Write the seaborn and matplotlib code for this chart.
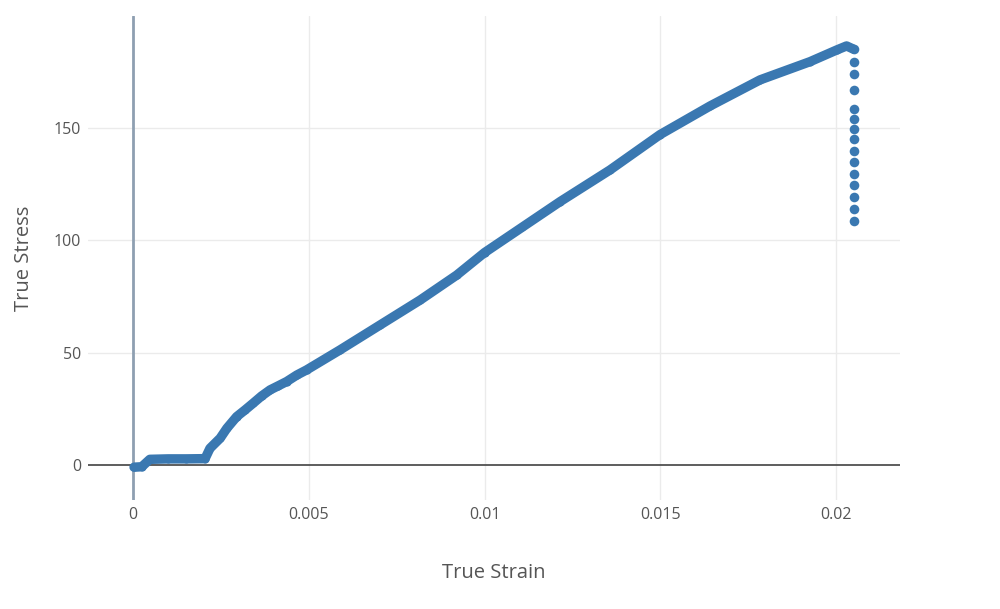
import matplotlib
matplotlib.use('Agg')
import matplotlib.pyplot as plt
import seaborn as sns
import pandas as pd

# values
strain = [0.00003, 0.00025, 0.00048, 0.0010, 0.0015, 0.00205, 0.00219, 0.00248,
          0.00267, 0.00295, 0.00319, 0.00342, 0.00366, 0.0039, 0.00413, 0.00437,
          0.00466, 0.00494, 0.00589, 0.00703, 0.00817, 0.00921, 0.0100, 0.01107,
          0.01215, 0.01357, 0.01499, 0.01642, 0.01784, 0.01926, 0.02002, 0.0203,
          0.02048]
stress = [-1.0, -0.8, 2.5, 2.7, 2.7, 2.8, 7.4, 11.9,
          16.3, 21.5, 24.5, 27.5, 30.7, 33.4, 35.2, 37.1,
          40.0, 42.3, 51.2, 62.3, 73.4, 84.5, 94.5, 105.8,
          117.2, 131.3, 147.0, 159.8, 171.4, 179.5, 184.7, 186.5,
          185.2]

# points after fracture (vertical drop)
strain_tail = [0.02052] * 15
stress_tail = [185.0, 179.2, 174.0, 166.8, 158.6, 154.1, 149.6, 145.0,
               139.9, 134.7, 129.6, 124.4, 119.1, 113.9, 108.8]

x_ticks = [0, 0.005, 0.01, 0.015, 0.02]
x_ticklabels = ['0', '0.005', '0.01', '0.015', '0.02']
y_ticks = [0, 50, 100, 150]

df = pd.DataFrame({'True Strain': strain, 'True Stress': stress})
df_tail = pd.DataFrame({'True Strain': strain_tail, 'True Stress': stress_tail})

sns.set_style('white')
plt.rcParams['font.family'] = ['Open Sans', 'DejaVu Sans']

blue = '#3a78b1'
txt = '#555555'

fig = plt.figure(figsize=(10, 6.09), dpi=100)
ax = fig.add_axes([0.088, 0.179, 0.812, 0.795])

# gridlines and zero lines like plotly
for xv in x_ticks[1:]:
    ax.axvline(xv, color='#ebebeb', lw=1, zorder=0)
for yv in y_ticks[1:]:
    ax.axhline(yv, color='#ebebeb', lw=1, zorder=0)
ax.axvline(0, color='#8e9fb1', lw=2, zorder=1)
ax.axhline(0, color='#505050', lw=1.3, zorder=1)

# dense run of markers -> thick round-capped line through the read points
sns.lineplot(data=df, x='True Strain', y='True Stress', sort=False, ax=ax,
             color=blue, lw=6.8, solid_capstyle='round', solid_joinstyle='round', zorder=3)
sns.scatterplot(data=df, x='True Strain', y='True Stress', ax=ax,
                color=blue, s=34, linewidth=0, zorder=4)
sns.scatterplot(data=df_tail, x='True Strain', y='True Stress', ax=ax,
                color=blue, s=48, linewidth=0, zorder=4)

ax.set_xlim(-0.00128, 0.02182)
ax.set_ylim(-15.6, 199.9)
ax.set_xticks(x_ticks)
ax.set_xticklabels(x_ticklabels)
ax.set_yticks(y_ticks)
ax.tick_params(axis='both', length=0, labelsize=11.5, colors=txt)
ax.tick_params(axis='x', pad=5)
ax.tick_params(axis='y', pad=5)
for s in ax.spines.values():
    s.set_visible(False)

ax.set_xlabel('True Strain', fontsize=14.5, color=txt, labelpad=29)
ax.set_ylabel('True Stress', fontsize=14.5, color=txt, labelpad=14)

fig.savefig('out.png', dpi=100, facecolor='white')
